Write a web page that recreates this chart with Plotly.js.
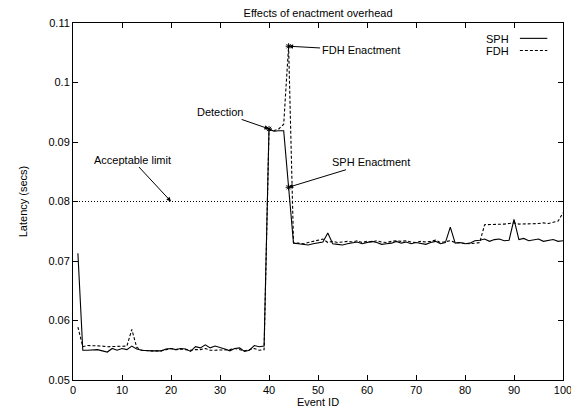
<!DOCTYPE html>
<html>
<head>
<meta charset="utf-8">
<script src="https://cdn.plot.ly/plotly-3.0.1.min.js"></script>
<style>html,body{margin:0;padding:0;background:#fff;}#chart{width:571px;height:412px;}</style>
</head>
<body>
<div id="chart"></div>
<script>
// Event IDs 1..100
var eventIds = [];
for (var i = 1; i <= 100; i++) eventIds.push(i);

var sphLatency = [
  0.0713, 0.0550, 0.0550, 0.0551, 0.0551, 0.0549, 0.0547, 0.0553, 0.0550, 0.0553,
  0.0551, 0.0557, 0.0552, 0.0550, 0.0549, 0.0549, 0.0549, 0.0549, 0.0552, 0.0553,
  0.0551, 0.0553, 0.0552, 0.0548, 0.0556, 0.0554, 0.0559, 0.0554, 0.0557, 0.0555,
  0.0552, 0.0549, 0.0553, 0.0554, 0.0548, 0.0550, 0.0558, 0.0556, 0.0557, 0.0922,
  0.0918, 0.0919, 0.0919, 0.0824, 0.0730, 0.0729, 0.0728, 0.0727, 0.0729, 0.0730,
  0.0732, 0.0747, 0.0729, 0.0728, 0.0727, 0.0729, 0.0731, 0.0732, 0.0729, 0.0731,
  0.0733, 0.0731, 0.0728, 0.0729, 0.0730, 0.0733, 0.0730, 0.0732, 0.0729, 0.0731,
  0.0730, 0.0728, 0.0731, 0.0733, 0.0729, 0.0731, 0.0757, 0.0730, 0.0731, 0.0729,
  0.0730, 0.0734, 0.0735, 0.0737, 0.0733, 0.0736, 0.0737, 0.0734, 0.0735, 0.0770,
  0.0736, 0.0738, 0.0734, 0.0735, 0.0737, 0.0733, 0.0735, 0.0736, 0.0733, 0.0734
];

var fdhLatency = [
  0.0589, 0.0556, 0.0558, 0.0558, 0.0558, 0.0557, 0.0556, 0.0556, 0.0556, 0.0556,
  0.0557, 0.0585, 0.0555, 0.0550, 0.0549, 0.0549, 0.0549, 0.0549, 0.0551, 0.0553,
  0.0551, 0.0552, 0.0551, 0.0550, 0.0551, 0.0551, 0.0553, 0.0550, 0.0550, 0.0550,
  0.0550, 0.0551, 0.0553, 0.0551, 0.0549, 0.0551, 0.0553, 0.0550, 0.0551, 0.0920,
  0.0919, 0.0922, 0.0930, 0.1061, 0.0731, 0.0730, 0.0729, 0.0731, 0.0733, 0.0734,
  0.0737, 0.0731, 0.0733, 0.0731, 0.0732, 0.0733, 0.0732, 0.0734, 0.0731, 0.0733,
  0.0732, 0.0734, 0.0732, 0.0731, 0.0733, 0.0734, 0.0733, 0.0734, 0.0732, 0.0731,
  0.0733, 0.0732, 0.0733, 0.0735, 0.0731, 0.0733, 0.0734, 0.0731, 0.0730, 0.0730,
  0.0729, 0.0730, 0.0731, 0.0761, 0.0761, 0.0762, 0.0762, 0.0762, 0.0763, 0.0764,
  0.0762, 0.0762, 0.0763, 0.0762, 0.0763, 0.0764, 0.0763, 0.0765, 0.0767, 0.0781
];

var limitX = [0, 100];
var limitValue = 0.08;

var xTicks = [0, 10, 20, 30, 40, 50, 60, 70, 80, 90, 100];
var yTicks = [0.05, 0.06, 0.07, 0.08, 0.09, 0.1, 0.11];
var yTickLabels = ["0.05", "0.06", "0.07", "0.08", "0.09", "0.1", "0.11"];

// annotated points
var noteLabels = ["Acceptable limit", "Detection", "FDH Enactment", "SPH Enactment"];
var noteX = [20, 40, 44, 44];
var noteY = [0.08, 0.0922, 0.1061, 0.0824];

var font = "Liberation Sans, Arial, Helvetica, sans-serif";

var traces = [
  {x: limitX, y: [limitValue, limitValue], mode: "lines", line: {color: "#000", width: 1, dash: "1px,2px"}, hoverinfo: "skip", showlegend: false},
  {x: eventIds, y: sphLatency, mode: "lines", name: "SPH", line: {color: "#000", width: 1.1}, showlegend: false},
  {x: eventIds, y: fdhLatency, mode: "lines", name: "FDH", line: {color: "#000", width: 1.1, dash: "3px,2px"}, showlegend: false},
  {x: noteX.slice(1), y: noteY.slice(1), mode: "markers", marker: {symbol: "asterisk-open", size: 5, color: "#000", line: {color: "#000", width: 1}}, showlegend: false, hoverinfo: "skip"}
];

var offsets = [[-39, -42], [-49, -17], [72, 4], [82, -25]];
var annotations = [];
for (var k = 0; k < noteLabels.length; k++) {
  annotations.push({
    x: noteX[k], y: noteY[k], xref: "x", yref: "y",
    text: noteLabels[k], showarrow: true,
    ax: offsets[k][0], ay: offsets[k][1],
    arrowhead: 2, arrowsize: 0.9, arrowwidth: 1, arrowcolor: "#000",
    font: {family: font, size: 11, color: "#000"}
  });
}
// legend labels (text left of sample, gnuplot style)
annotations.push({xref: "paper", yref: "paper", x: 0.893, y: 0.955, xanchor: "right", yanchor: "middle", text: "SPH", showarrow: false, font: {family: font, size: 11, color: "#000"}});
annotations.push({xref: "paper", yref: "paper", x: 0.893, y: 0.921, xanchor: "right", yanchor: "middle", text: "FDH", showarrow: false, font: {family: font, size: 11, color: "#000"}});

var shapes = [
  {type: "line", xref: "paper", yref: "paper", x0: 0.912, x1: 0.968, y0: 0.957, y1: 0.957, line: {color: "#000", width: 1.1}},
  {type: "line", xref: "paper", yref: "paper", x0: 0.912, x1: 0.968, y0: 0.923, y1: 0.923, line: {color: "#000", width: 1.1, dash: "3px,2px"}}
];

var layout = {
  width: 571, height: 412,
  margin: {l: 73, r: 8, t: 23, b: 32, pad: 0},
  paper_bgcolor: "#fff", plot_bgcolor: "#fff",
  font: {family: font, size: 11, color: "#000"},
  title: {text: "Effects of enactment overhead", x: 0.557, xanchor: "center", y: 0.968, yanchor: "middle", font: {family: font, size: 11, color: "#000"}},
  xaxis: {
    range: [0, 100], tickvals: xTicks, ticks: "inside", ticklen: 5, tickcolor: "#000",
    showgrid: false, zeroline: false, showline: true, linecolor: "#000", linewidth: 1, mirror: "ticks",
    ticklabeloverflow: "allow",
    title: {text: "Event ID", standoff: 0, font: {family: font, size: 11}},
    tickfont: {family: font, size: 11}
  },
  yaxis: {
    range: [0.05, 0.11], tickvals: yTicks, ticktext: yTickLabels, ticks: "inside", ticklen: 5, tickcolor: "#000",
    showgrid: false, zeroline: false, showline: true, linecolor: "#000", linewidth: 1, mirror: "ticks",
    title: {text: "Latency (secs)", standoff: 18, font: {family: font, size: 11}},
    tickfont: {family: font, size: 11}
  },
  annotations: annotations,
  shapes: shapes,
  showlegend: false
};

Plotly.newPlot("chart", traces, layout, {displayModeBar: false, staticPlot: true});
</script>
</body>
</html>
